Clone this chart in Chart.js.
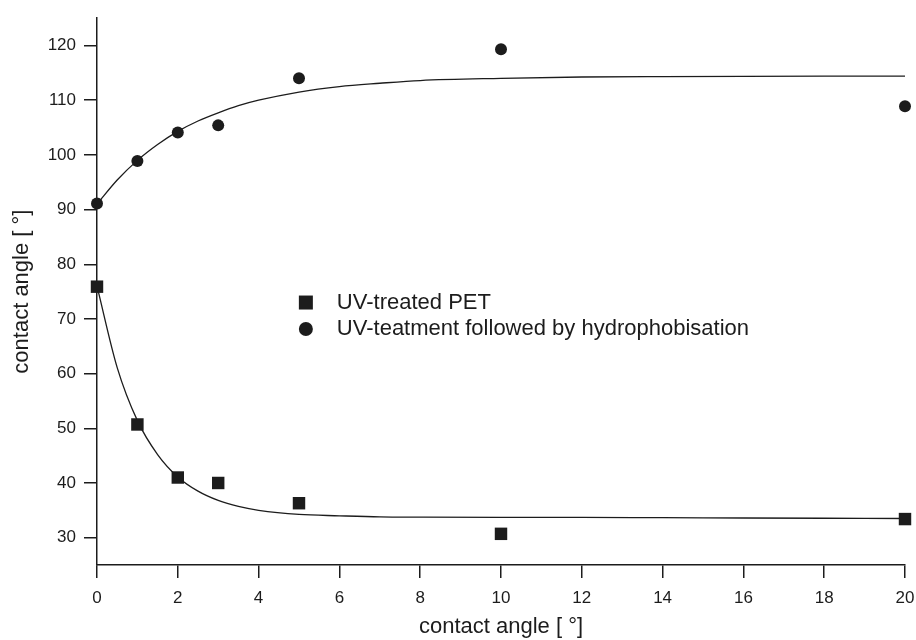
<!DOCTYPE html>
<html>
<head>
<meta charset="utf-8">
<title>contact angle</title>
<script src="https://cdn.jsdelivr.net/npm/chart.js@4.4.1/dist/chart.umd.min.js"></script>
<style>
  html, body { margin: 0; padding: 0; background: #fff; }
  #wrap { width: 916px; height: 640px; }
</style>
</head>
<body>
<div id="wrap"><canvas id="myChart" width="916" height="640"></canvas></div>
<script>
// measured points
const xValues = [0, 1, 2, 3, 5, 10, 20];
const petValues = [75.9, 50.7, 41.0, 40.0, 36.3, 30.7, 33.4];
const hydroValues = [91.1, 98.9, 104.1, 105.4, 114.0, 119.3, 108.9];

// fitted curves
const fitX = [0, 0.5, 1, 1.5, 2, 2.5, 3, 3.5, 4, 5, 6, 7, 8, 10, 12, 14, 16, 18, 20];
const petFit = [76.0, 61.1, 51.4, 45.2, 41.1, 38.5, 36.8, 35.7, 35.0, 34.25, 34.0, 33.8, 33.75, 33.7, 33.7, 33.65, 33.6, 33.55, 33.5];
const hydroFit = [91.0, 95.4, 99.0, 101.9, 104.3, 106.2, 107.7, 109.0, 110.0, 111.5, 112.5, 113.1, 113.6, 114.0, 114.25, 114.33, 114.37, 114.39, 114.4];

const seriesNames = ['UV-treated PET', 'UV-teatment followed by hydrophobisation'];
const xTicks = [0, 2, 4, 6, 8, 10, 12, 14, 16, 18, 20];
const yTicks = [30, 40, 50, 60, 70, 80, 90, 100, 110, 120];
const axisTitle = 'contact angle [ \u00b0]';

const ink = '#1c1c1c';
const fontFamily = '"Liberation Sans", Arial, sans-serif';

function pairs(xs, ys) {
    return xs.map(function (x, i) { return { x: x, y: ys[i] }; });
}

// legend drawn inside the plot area
const innerLegend = {
    id: 'innerLegend',
    afterDraw(chart) {
        const ctx = chart.ctx;
        const xs = chart.scales.x, ys = chart.scales.y;
        const mx = xs.getPixelForValue(5.17);
        const my = ys.getPixelForValue(73.0);
        const gap = 26.5;
        ctx.save();
        ctx.fillStyle = ink;
        // square
        ctx.fillRect(mx - 7, my - 7, 14, 14);
        // circle
        ctx.beginPath();
        ctx.arc(mx, my + gap, 7, 0, Math.PI * 2);
        ctx.fill();
        ctx.font = '22px ' + fontFamily;
        ctx.textBaseline = 'middle';
        ctx.textAlign = 'left';
        ctx.fillText(seriesNames[0], mx + 31, my);
        ctx.fillText(seriesNames[1], mx + 31, my + gap);
        ctx.restore();
    }
};

new Chart('myChart', {
    type: 'scatter',
    data: {
        datasets: [
            {
                label: seriesNames[0],
                data: pairs(xValues, petValues),
                pointStyle: 'rect',
                pointRadius: 8.8,
                pointBorderWidth: 0,
                backgroundColor: ink,
                borderColor: ink,
                clip: false,
                order: 1
            },
            {
                label: seriesNames[1],
                data: pairs(xValues, hydroValues),
                pointStyle: 'circle',
                pointRadius: 6,
                pointBorderWidth: 0,
                backgroundColor: ink,
                borderColor: ink,
                clip: false,
                order: 1
            },
            {
                label: 'fit PET',
                data: pairs(fitX, petFit),
                showLine: true,
                pointRadius: 0,
                borderColor: ink,
                borderWidth: 1.3,
                cubicInterpolationMode: 'monotone',
                clip: false,
                order: 2
            },
            {
                label: 'fit hydro',
                data: pairs(fitX, hydroFit),
                showLine: true,
                pointRadius: 0,
                borderColor: ink,
                borderWidth: 1.3,
                cubicInterpolationMode: 'monotone',
                clip: false,
                order: 2
            }
        ]
    },
    options: {
        responsive: false,
        animation: false,
        layout: { padding: { top: 12, right: 11, left: 0, bottom: 0 } },
        plugins: {
            legend: { display: false },
            tooltip: { enabled: false }
        },
        scales: {
            x: {
                type: 'linear',
                min: 0,
                max: 20,
                afterBuildTicks: function (scale) {
                    scale.ticks = xTicks.map(function (v) { return { value: v }; });
                },
                afterFit: function (scale) {
                    scale.height = 75;
                    scale.paddingLeft = 0;
                    scale.paddingRight = 0;
                },
                border: { display: true, color: ink, width: 1.5 },
                grid: { drawOnChartArea: false, drawTicks: true, tickLength: 13, color: ink, lineWidth: 1.5 },
                ticks: { color: ink, padding: 10, maxRotation: 0, font: { size: 17, family: fontFamily } },
                title: {
                    display: true,
                    text: axisTitle,
                    color: ink,
                    padding: { top: -2, bottom: 0 },
                    font: { size: 22, family: fontFamily }
                }
            },
            y: {
                type: 'linear',
                min: 25,
                max: 125,
                afterBuildTicks: function (scale) {
                    scale.ticks = yTicks.map(function (v) { return { value: v }; });
                },
                afterFit: function (scale) { scale.width = 97; },
                border: { display: true, color: ink, width: 1.5 },
                grid: { drawOnChartArea: false, drawTicks: true, tickLength: 13, color: ink, lineWidth: 1.5 },
                ticks: { color: ink, padding: 8, font: { size: 17, family: fontFamily } },
                title: {
                    display: true,
                    text: axisTitle,
                    color: ink,
                    padding: { top: 9, bottom: 0 },
                    font: { size: 22, family: fontFamily }
                }
            }
        }
    },
    plugins: [innerLegend]
});
</script>
</body>
</html>
